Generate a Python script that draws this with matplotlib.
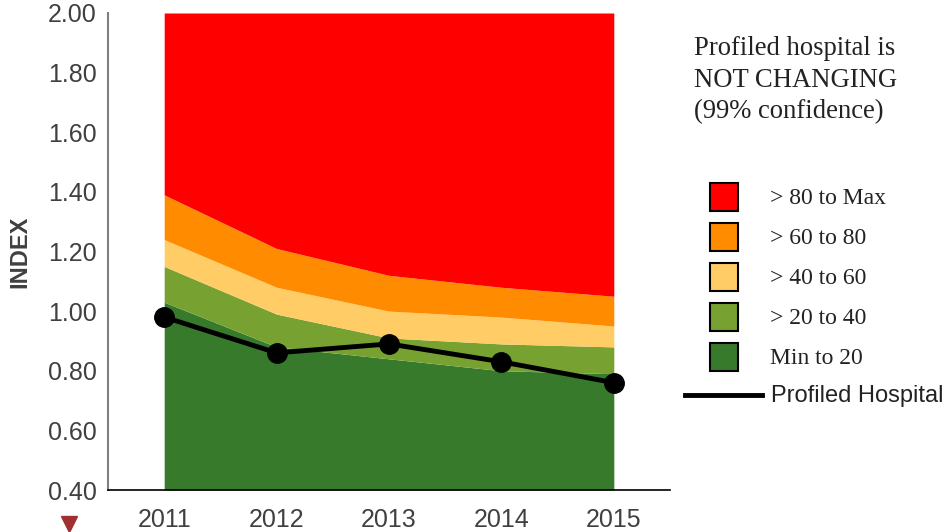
import matplotlib.pyplot as plt
from matplotlib.patches import Rectangle
from matplotlib.lines import Line2D

# data
years = [2011, 2012, 2013, 2014, 2015]
p20 = [1.03, 0.88, 0.84, 0.80, 0.79]
p40 = [1.15, 0.99, 0.91, 0.89, 0.88]
p60 = [1.24, 1.08, 1.00, 0.98, 0.95]
p80 = [1.39, 1.21, 1.12, 1.08, 1.05]
pmax = [2.00, 2.00, 2.00, 2.00, 2.00]
hospital = [0.98, 0.86, 0.89, 0.83, 0.76]

band_labels = ["> 80 to Max", "> 60 to 80", "> 40 to 60", "> 20 to 40", "Min to 20"]
band_colors = ["#FF0000", "#FF8C00", "#FFCC66", "#77A232", "#387A2B"]
yticks = [0.40, 0.60, 0.80, 1.00, 1.20, 1.40, 1.60, 1.80, 2.00]

W, H = 946, 532
fig = plt.figure(figsize=(W / 100, H / 100), dpi=100)
ax = fig.add_axes([108 / W, 1 - 490 / H, (670 - 108) / W, (490 - 13) / H])

ymin = 0.40
bounds = [[ymin] * len(years), p20, p40, p60, p80, pmax]
fill_cols = band_colors[::-1]  # bottom to top
for i in range(5):
    ax.fill_between(years, bounds[i], bounds[i + 1], color=fill_cols[i], lw=0, zorder=1)

ax.plot(years, hospital, color="black", lw=3.5, marker="o", markersize=14, zorder=3)

ax.set_xlim(2010.5, 2015.5)
ax.set_ylim(0.40, 2.00)
ax.set_xticks(years)
ax.set_xticklabels([str(y) for y in years])
ax.set_yticks(yticks)
ax.set_yticklabels(["%.2f" % v for v in yticks])
ax.tick_params(length=0, labelsize=18, labelcolor="#404040", pad=8)
ax.tick_params(axis="x", pad=13)
for lab in ax.get_xticklabels() + ax.get_yticklabels():
    lab.set_family("Liberation Sans")
ax.spines["top"].set_visible(False)
ax.spines["right"].set_visible(False)
ax.spines["left"].set_color("#808080")
ax.spines["left"].set_linewidth(1.5)
ax.spines["bottom"].set_color("black")
ax.spines["bottom"].set_linewidth(1.2)
ax.set_ylabel("INDEX", fontsize=17, fontweight="bold", color="#404040",
              family="Liberation Sans", labelpad=12)

# note text top right
fig.text(694 / W, 1 - 36 / H, "Profiled hospital is\nNOT CHANGING\n(99% confidence)",
         family="Liberation Serif", fontsize=19.2, color="#222222",
         va="top", ha="left", linespacing=1.35)

# legend drawn by hand
for i, (lab, col) in enumerate(zip(band_labels, band_colors)):
    cy = 197 + 40 * i
    fig.add_artist(Rectangle((710 / W, 1 - (cy + 14) / H), 28 / W, 28 / H,
                             transform=fig.transFigure, facecolor=col,
                             edgecolor="black", lw=1.5))
    fig.text(770 / W, 1 - (cy + 2) / H, lab, family="Liberation Serif", fontsize=17,
             color="#222222", va="center", ha="left")

fig.add_artist(Line2D([685 / W, 762 / W], [1 - 395 / H, 1 - 395 / H],
                      transform=fig.transFigure, color="black", lw=3.5))
fig.text(771 / W, 1 - 396 / H, "Profiled Hospital", family="Liberation Sans",
         fontsize=17, color="#222222", va="center", ha="left")

# small marker under the y axis
fig.add_artist(Line2D([69 / W], [1 - 524 / H], transform=fig.transFigure,
                      marker="v", markersize=12, color="#A03030", lw=0))

fig.savefig("out.png", dpi=100)
